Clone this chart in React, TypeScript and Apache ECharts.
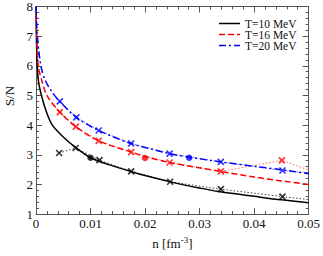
import React, { useEffect, useRef } from "react";
import * as echarts from "echarts";

// Theory curves [n (fm^-3), S/N]
const curveT10: [number, number][] = [
  [0.00002, 8.0], [0.0001, 6.7], [0.0004, 5.55], [0.001, 5.0], [0.002, 4.4], [0.003, 4.0],
  [0.005, 3.6], [0.0073, 3.24], [0.01, 2.9], [0.0135, 2.66], [0.0175, 2.43], [0.02, 2.3],
  [0.025, 2.07], [0.03, 1.88], [0.0335, 1.76], [0.04, 1.6], [0.045, 1.48], [0.05, 1.38],
];
const curveT16: [number, number][] = [
  [0.00002, 8.0], [0.0001, 7.2], [0.0004, 6.0], [0.001, 5.55], [0.002, 5.0], [0.00436, 4.44],
  [0.0073, 3.95], [0.0115, 3.47], [0.0175, 3.09], [0.02, 2.94], [0.0245, 2.74], [0.0339, 2.44],
  [0.04, 2.25], [0.045, 2.12], [0.05, 2.0],
];
const curveT20: [number, number][] = [
  [0.00001, 8.0], [0.00024, 7.0], [0.0009, 6.0], [0.0016, 5.55], [0.003, 5.1], [0.00436, 4.8],
  [0.0074, 4.26], [0.0115, 3.82], [0.01745, 3.38], [0.0245, 3.04], [0.0281, 2.92], [0.0339, 2.76],
  [0.0452, 2.49], [0.05, 2.36],
];

// Cross markers (connected by dotted lines)
const crossT10: [number, number][] = [
  [0.00424, 3.06], [0.00727, 3.23], [0.01164, 2.82], [0.01745, 2.44], [0.0246, 2.09], [0.0339, 1.84], [0.0452, 1.59],
];
const crossT16: [number, number][] = [
  [0.00436, 4.44], [0.0073, 3.95], [0.0115, 3.47], [0.01745, 3.09], [0.0245, 2.74], [0.0339, 2.44], [0.0451, 2.81],
];
const crossT20: [number, number][] = [
  [0.00436, 4.8], [0.0074, 4.26], [0.0115, 3.82], [0.01745, 3.38], [0.0245, 3.04], [0.0339, 2.76], [0.0452, 2.47],
];
// Dotted line end values at the right edge
const dottedEndT10: [number, number] = [0.05, 1.49];
const dottedEndT16: [number, number] = [0.05, 2.49];
const dottedEndT20: [number, number] = [0.05, 2.38];

// Filled dots
const dotT10: [number, number][] = [[0.01, 2.9]];
const dotT16: [number, number][] = [[0.02, 2.89]];
const dotT20: [number, number][] = [[0.0281, 2.9]];

const legendLabels = ["T=10 MeV", "T=16 MeV", "T=20 MeV"];
const xTicks = [0, 0.01, 0.02, 0.03, 0.04, 0.05];

const FONT = "Liberation Serif";
const CROSS = "path://M0,0L10,10M10,0L0,10";
const AXIS_COLOR = "#555";

export default function App() {
  const ref = useRef<HTMLDivElement>(null);
  useEffect(() => {
    if (!ref.current) return;
    const chart = echarts.init(ref.current, undefined, { renderer: "svg" });
    const colors = ["#000000", "#ff0000", "#0000ff"];
    const curves = [curveT10, curveT16, curveT20];
    const crosses = [crossT10, crossT16, crossT20];
    const ends = [dottedEndT10, dottedEndT16, dottedEndT20];
    const dots = [dotT10, dotT16, dotT20];
    const lineTypes: any[] = ["solid", [6, 3], [7, 3, 2, 3]];
    const dottedColors = ["#444", "#ff6666", "#6666ff"];

    const series: any[] = [];
    for (let i = 0; i < 3; i++) {
      series.push({
        type: "line",
        data: [...crosses[i], ends[i]],
        showSymbol: false,
        lineStyle: { color: dottedColors[i], width: 1, type: [1.5, 2] },
        z: 2,
      });
      series.push({
        type: "line",
        data: curves[i],
        smooth: 0.3,
        showSymbol: false,
        lineStyle: { color: colors[i], width: 1.5, type: lineTypes[i] },
        z: 3,
      });
      series.push({
        type: "scatter",
        data: crosses[i],
        symbol: CROSS,
        symbolSize: 6,
        itemStyle: { color: "transparent", borderColor: colors[i], borderWidth: 1.6 },
        z: 4,
      });
      series.push({
        type: "scatter",
        data: dots[i],
        symbol: "circle",
        symbolSize: 6.5,
        itemStyle: { color: colors[i] },
        z: 4,
      });
    }

    const graphics: any[] = [];
    const legendY = [23.5, 34.5, 45.5];
    for (let i = 0; i < 3; i++) {
      graphics.push({
        type: "line",
        shape: { x1: 219, y1: legendY[i], x2: 240, y2: legendY[i] },
        style: { stroke: colors[i], lineWidth: 1.5, lineDash: i === 0 ? null : lineTypes[i] },
      });
      graphics.push({
        type: "text",
        x: 245,
        y: legendY[i],
        style: {
          text: legendLabels[i],
          fill: "#111",
          fontFamily: FONT,
          fontSize: 11.5,
          fontWeight: "normal",
          lineHeight: 10,
          verticalAlign: "middle",
          align: "left",
        },
      });
    }
    graphics.push({
      type: "text",
      x: 9,
      y: 96,
      rotation: Math.PI / 2,
      style: {
        text: "S/N",
        fill: "#111",
        fontFamily: FONT,
        fontSize: 13,
        align: "center",
        verticalAlign: "middle",
      },
    });

    const axisCommon = {
      axisLine: { show: true, onZero: false, lineStyle: { color: AXIS_COLOR, width: 1 } },
      splitLine: { show: false },
    };
    const ticks = {
      axisTick: { show: true, inside: true, length: 6, lineStyle: { color: AXIS_COLOR } },
      minorTick: { show: true, splitNumber: 5, length: 3, lineStyle: { color: AXIS_COLOR } },
    };

    chart.setOption({
      animation: false,
      textStyle: { fontFamily: FONT },
      grid: { left: 36, right: 11, top: 5, bottom: 37 },
      xAxis: [
        {
          type: "value",
          min: 0,
          max: 0.05,
          interval: 0.01,
          ...axisCommon,
          ...ticks,
          axisLabel: {
            color: "#111",
            fontFamily: FONT,
            fontSize: 13,
            margin: 3,
            formatter: (v: number) => {
              const idx = xTicks.findIndex((t) => Math.abs(t - v) < 1e-9);
              return idx >= 0 ? String(xTicks[idx]) : "";
            },
          },
          name: "n [fm{sup|-3}]",
          nameLocation: "middle",
          nameGap: 19,
          nameTextStyle: {
            color: "#111",
            fontFamily: FONT,
            fontSize: 13,
            lineHeight: 16,
            rich: {
              sup: { fontSize: 9, fontFamily: FONT, color: "#111", verticalAlign: "top", lineHeight: 9 },
            },
          },
        },
        {
          type: "value",
          position: "top",
          min: 0,
          max: 0.05,
          interval: 0.01,
          ...axisCommon,
          ...ticks,
          axisLabel: { show: false },
        },
      ],
      yAxis: [
        {
          type: "value",
          min: 1,
          max: 8,
          interval: 1,
          ...axisCommon,
          ...ticks,
          axisLabel: { color: "#111", fontFamily: FONT, fontSize: 13, margin: 3 },
        },
        {
          type: "value",
          position: "right",
          min: 1,
          max: 8,
          interval: 1,
          ...axisCommon,
          ...ticks,
          axisLabel: { show: false },
        },
      ],
      series,
      graphic: graphics,
    });
    return () => chart.dispose();
  }, []);
  return <div ref={ref} style={{ width: 323, height: 256, position: "absolute", left: 0, top: 0 }} />;
}
